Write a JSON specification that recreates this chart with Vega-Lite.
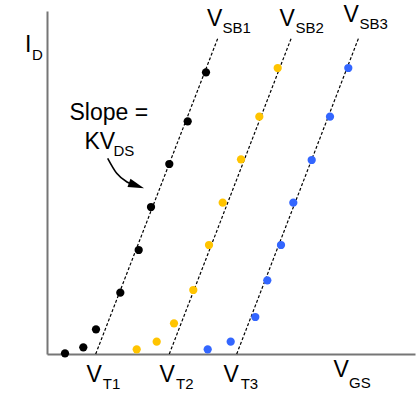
{
  "$schema": "https://vega.github.io/schema/vega-lite/v6.json",
  "width": 368,
  "height": 343,
  "autosize": {"type": "none"},
  "padding": {"left": 47, "top": 11, "right": 4, "bottom": 40},
  "background": "white",
  "config": {"view": {"stroke": null}},
  "datasets": {
    "pts": [
      {"s": "1", "x": 18, "y": 0.7}, {"s": "1", "x": 36.3, "y": 6.7}, {"s": "1", "x": 49, "y": 24.7},
      {"s": "1", "x": 73.3, "y": 61.3}, {"s": "1", "x": 91.7, "y": 104}, {"s": "1", "x": 104, "y": 147},
      {"s": "1", "x": 122.3, "y": 190}, {"s": "1", "x": 140.7, "y": 232.7}, {"s": "1", "x": 159, "y": 281.7},
      {"s": "2", "x": 89.7, "y": 4.7}, {"s": "2", "x": 109.7, "y": 12.3}, {"s": "2", "x": 127, "y": 30.7},
      {"s": "2", "x": 146.3, "y": 64}, {"s": "2", "x": 162, "y": 109}, {"s": "2", "x": 175.7, "y": 151.3},
      {"s": "2", "x": 194, "y": 194.7}, {"s": "2", "x": 212.3, "y": 237.3}, {"s": "2", "x": 230.7, "y": 286},
      {"s": "3", "x": 160.7, "y": 4.7}, {"s": "3", "x": 183.7, "y": 12.3}, {"s": "3", "x": 208.3, "y": 37},
      {"s": "3", "x": 220.3, "y": 73.7}, {"s": "3", "x": 234, "y": 109}, {"s": "3", "x": 246.3, "y": 151.3},
      {"s": "3", "x": 264.7, "y": 194}, {"s": "3", "x": 283, "y": 237.3}, {"s": "3", "x": 301.3, "y": 286}
    ],
    "lines": [
      {"x": 48.7, "y": 0, "x2": 171.3, "y2": 317},
      {"x": 122.3, "y": 0, "x2": 244.7, "y2": 317},
      {"x": 189.7, "y": 0, "x2": 312, "y2": 317}
    ],
    "big": [
      {"t": "V", "x": 160, "y": 328},
      {"t": "V", "x": 232.5, "y": 328},
      {"t": "V", "x": 296.5, "y": 332},
      {"t": "V", "x": 39.5, "y": -27.7},
      {"t": "V", "x": 112.5, "y": -27.7},
      {"t": "V", "x": 176.5, "y": -27.7},
      {"t": "V", "x": 286.5, "y": -22.7},
      {"t": "I", "x": -22, "y": 302},
      {"t": "Slope =", "x": 22.5, "y": 234},
      {"t": "KV", "x": 37.5, "y": 204.7}
    ],
    "small": [
      {"t": "SB1", "x": 175.5, "y": 320.7},
      {"t": "SB2", "x": 248.5, "y": 320.7},
      {"t": "SB3", "x": 312.5, "y": 325},
      {"t": "T1", "x": 55.8, "y": -35},
      {"t": "T2", "x": 129, "y": -35},
      {"t": "T3", "x": 193.7, "y": -35},
      {"t": "GS", "x": 302, "y": -34.3},
      {"t": "D", "x": -15, "y": 294},
      {"t": "DS", "x": 66.5, "y": 198}
    ],
    "arrow": [
      {"x": 60.7, "y": 195.7}, {"x": 69.7, "y": 180.7}, {"x": 80, "y": 172}, {"x": 90, "y": 168.2}
    ],
    "head": [
      {"x": 89.5, "y": 168.4}
    ]
  },
  "encoding": {
    "x": {"field": "x", "type": "quantitative", "scale": {"domain": [0, 368], "nice": false, "zero": false},
          "axis": {"domain": true, "domainColor": "#767676", "domainWidth": 2, "ticks": false, "labels": false, "grid": false, "title": null}},
    "y": {"field": "y", "type": "quantitative", "scale": {"domain": [0, 343], "nice": false, "zero": false},
          "axis": {"domain": true, "domainColor": "#767676", "domainWidth": 2, "ticks": false, "labels": false, "grid": false, "title": null}}
  },
  "layer": [
    {
      "data": {"name": "lines"},
      "mark": {"type": "rule", "color": "black", "strokeWidth": 1.2, "strokeDash": [3, 2]},
      "encoding": {"x2": {"field": "x2"}, "y2": {"field": "y2"}}
    },
    {
      "data": {"name": "pts"},
      "mark": {"type": "circle", "size": 68, "opacity": 1},
      "encoding": {
        "color": {"field": "s", "type": "nominal", "scale": {"domain": ["1", "2", "3"], "range": ["#000000", "#FFC400", "#3366FF"]}, "legend": null}
      }
    },
    {
      "data": {"name": "arrow"},
      "mark": {"type": "line", "color": "black", "strokeWidth": 1.6, "interpolate": "monotone"},
      "encoding": {}
    },
    {
      "data": {"name": "head"},
      "mark": {"type": "point", "shape": "M-1,-0.55L1,0L-1,0.55Z", "filled": true, "color": "black", "opacity": 1, "size": 256, "angle": 20},
      "encoding": {}
    },
    {
      "data": {"name": "big"},
      "mark": {"type": "text", "font": "Liberation Sans", "fontSize": 23, "align": "left", "baseline": "alphabetic", "color": "black"},
      "encoding": {"text": {"field": "t"}}
    },
    {
      "data": {"name": "small"},
      "mark": {"type": "text", "font": "Liberation Sans", "fontSize": 15, "align": "left", "baseline": "alphabetic", "color": "black"},
      "encoding": {"text": {"field": "t"}}
    }
  ]
}
